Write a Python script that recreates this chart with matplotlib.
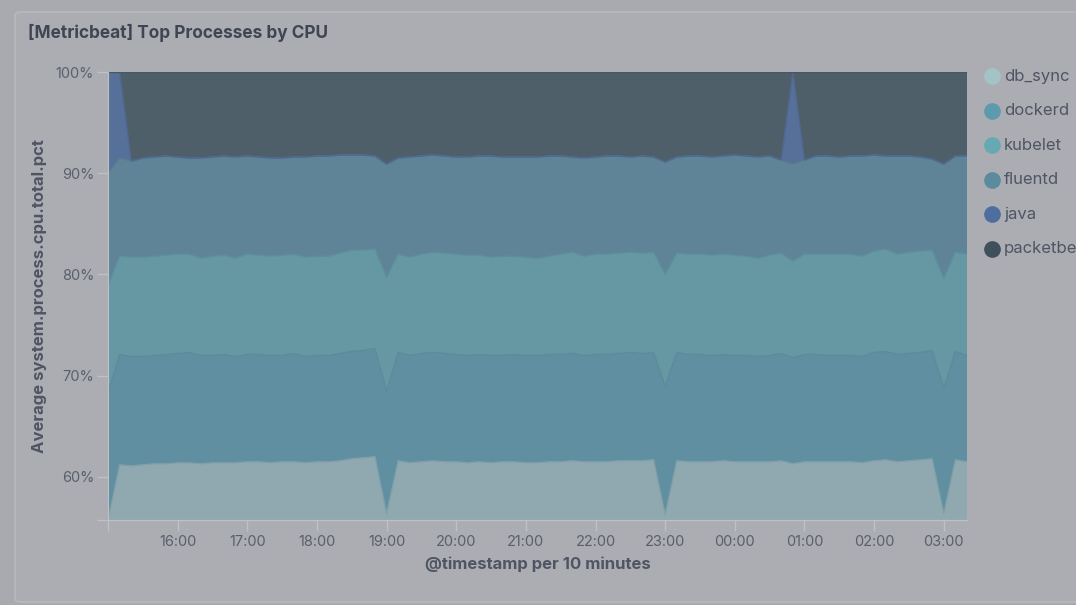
import numpy as np
import pandas as pd
import matplotlib
matplotlib.use("Agg")
import matplotlib.pyplot as plt
import matplotlib.dates as mdates
from matplotlib.patches import FancyBboxPatch
from matplotlib.lines import Line2D

plt.rcParams['font.family'] = ['Inter', 'DejaVu Sans']

# share of total CPU per process (%), one value per 10 minutes from 15:00
times = pd.date_range("2019-06-01 15:00", periods=75, freq="10min")

db_sync = [55.8, 61.2, 61.1, 61.2, 61.3, 61.3, 61.4, 61.4, 61.3, 61.4,
           61.4, 61.4, 61.5, 61.5, 61.4, 61.5, 61.5, 61.4, 61.5, 61.5,
           61.6, 61.8, 61.9, 62.0, 56.4, 61.6, 61.4, 61.5, 61.6, 61.5,
           61.5, 61.4, 61.5, 61.4, 61.5, 61.5, 61.4, 61.4, 61.5, 61.5,
           61.6, 61.5, 61.5, 61.5, 61.6, 61.6, 61.6, 61.7, 56.3, 61.6,
           61.5, 61.5, 61.5, 61.6, 61.5, 61.5, 61.5, 61.5, 61.6, 61.3,
           61.5, 61.5, 61.5, 61.5, 61.5, 61.4, 61.6, 61.7, 61.5, 61.6,
           61.7, 61.8, 56.4, 61.7, 61.5]
dockerd = [12.5, 10.9, 10.8, 10.7, 10.7, 10.8, 10.8, 10.9, 10.7, 10.6,
           10.7, 10.5, 10.6, 10.6, 10.6, 10.5, 10.7, 10.5, 10.5, 10.5,
           10.6, 10.6, 10.6, 10.7, 12.1, 10.7, 10.6, 10.7, 10.7, 10.7,
           10.6, 10.6, 10.6, 10.6, 10.5, 10.6, 10.6, 10.6, 10.6, 10.6,
           10.6, 10.5, 10.6, 10.6, 10.6, 10.7, 10.6, 10.6, 12.7, 10.7,
           10.6, 10.6, 10.5, 10.5, 10.5, 10.5, 10.4, 10.5, 10.6, 10.5,
           10.6, 10.6, 10.5, 10.5, 10.5, 10.5, 10.7, 10.7, 10.6, 10.6,
           10.6, 10.7, 12.4, 10.7, 10.5]
kubelet = [10.6, 9.7, 9.8, 9.8, 9.8, 9.8, 9.8, 9.7, 9.6, 9.8,
           9.8, 9.7, 9.9, 9.8, 9.8, 9.9, 9.8, 9.8, 9.8, 9.8,
           9.9, 10.0, 9.9, 9.8, 11.2, 9.7, 9.7, 9.8, 9.9, 9.9,
           9.9, 9.9, 9.8, 9.7, 9.8, 9.7, 9.7, 9.6, 9.7, 9.9,
           10.0, 9.8, 9.9, 9.9, 9.9, 9.9, 9.9, 9.9, 11.0, 9.8,
           9.9, 9.9, 9.9, 9.9, 9.9, 9.8, 9.7, 9.9, 9.9, 9.5,
           9.9, 9.9, 10.0, 10.0, 10.0, 9.9, 10.0, 10.1, 9.9, 10.0,
           10.0, 9.9, 10.8, 9.8, 10.0]
fluentd = [11.1, 9.7, 9.5, 9.8, 9.8, 9.8, 9.6, 9.5, 9.9, 9.8,
           9.8, 10.0, 9.7, 9.7, 9.7, 9.6, 9.6, 9.9, 9.9, 9.9,
           9.7, 9.4, 9.4, 9.2, 11.2, 9.5, 9.9, 9.7, 9.6, 9.6,
           9.6, 9.7, 9.8, 10.0, 9.8, 9.8, 9.9, 10.0, 9.9, 9.7,
           9.4, 9.7, 9.6, 9.7, 9.6, 9.4, 9.6, 9.4, 11.1, 9.5,
           9.7, 9.7, 9.7, 9.7, 9.9, 9.9, 10.0, 9.8, 9.2, 9.6,
           9.3, 9.7, 9.7, 9.6, 9.7, 9.9, 9.5, 9.2, 9.7, 9.5,
           9.3, 9.0, 11.3, 9.5, 9.7]
java = [10.0, 8.5, 0, 0, 0, 0, 0, 0, 0, 0,
        0, 0, 0, 0, 0, 0, 0, 0, 0, 0,
        0, 0, 0, 0, 0, 0, 0, 0, 0, 0,
        0, 0, 0, 0, 0, 0, 0, 0, 0, 0,
        0, 0, 0, 0, 0, 0, 0, 0, 0, 0,
        0, 0, 0, 0, 0, 0, 0, 0, 0, 9.1,
        0, 0, 0, 0, 0, 0, 0, 0, 0, 0,
        0, 0, 0, 0, 0]
packetbeat = [0, 0, 8.8, 8.5, 8.4, 8.3, 8.4, 8.5, 8.5, 8.4,
              8.3, 8.4, 8.3, 8.4, 8.5, 8.5, 8.4, 8.4, 8.3, 8.3,
              8.2, 8.2, 8.2, 8.3, 9.1, 8.5, 8.4, 8.3, 8.2, 8.3,
              8.4, 8.4, 8.3, 8.3, 8.4, 8.4, 8.4, 8.4, 8.3, 8.3,
              8.4, 8.5, 8.4, 8.3, 8.3, 8.4, 8.3, 8.4, 8.9, 8.4,
              8.3, 8.3, 8.4, 8.3, 8.2, 8.3, 8.4, 8.3, 8.7, 0,
              8.7, 8.3, 8.3, 8.4, 8.3, 8.3, 8.2, 8.3, 8.3, 8.3,
              8.4, 8.6, 9.1, 8.3, 8.3]

names = ["db_sync", "dockerd", "kubelet", "fluentd", "java", "packetbeat"]
fills = ["#90a9b0", "#5f8fa0", "#6698a3", "#608497", "#56709a", "#4e5f6a"]
edges = ["#7fa0a8", "#5a8c9c", "#5e8f9c", "#587b8e", "#4f6890", "#485762"]
dots = ["#a3c3c7", "#5b9bad", "#66a9b4", "#5b8b9d", "#4d6e9e", "#3f4f5c"]

data = np.array([db_sync, dockerd, kubelet, fluentd, java, packetbeat], dtype=float)
data = data / data.sum(axis=0) * 100

fig = plt.figure(figsize=(10.76, 6.05), dpi=100)
fig.patch.set_facecolor("#a9aaaf")
panel = FancyBboxPatch((15 / 1076, 3 / 605), 1.2, 590 / 605,
                       boxstyle="round,pad=0,rounding_size=0.006",
                       transform=fig.transFigure, facecolor="#acadb2",
                       edgecolor="#b8b9be", linewidth=1.2, zorder=-10)
fig.patches.append(panel)

ax = fig.add_axes([108 / 1076, 1 - 520 / 605, 859 / 1076, 448 / 605])
ax.set_facecolor("none")
ax.set_zorder(2)

ax.stackplot(times, data, colors=fills, linewidth=0)
tops = np.cumsum(data, axis=0)
for k in range(len(names)):
    if data[k].max() > 0:
        ax.plot(times, tops[k], color=edges[k], linewidth=1.0)

ax.set_xlim(times[0], times[-1])
ax.set_ylim(55.75, 100)
ax.set_yticks([60, 70, 80, 90, 100])
ax.set_yticklabels(["60%", "70%", "80%", "90%", "100%"])
ax.set_yticks([55.75], minor=True)
hour_ticks = [t for t in times if t.minute == 0 and t != times[0]]
ax.set_xticks(hour_ticks)
ax.set_xticklabels([t.strftime("%H:%M") for t in hour_ticks])
ax.set_xticks([times[0]], minor=True)
ax.tick_params(axis="both", which="both", colors="#bfc1c6", labelcolor="#59606b",
               labelsize=10.5, length=8, width=1)
ax.tick_params(axis="x", pad=3)
ax.tick_params(axis="y", pad=2)
for s in ["top", "right"]:
    ax.spines[s].set_visible(False)
for s in ["left", "bottom"]:
    ax.spines[s].set_color("#bfc1c6")

ax.set_xlabel("@timestamp per 10 minutes", fontsize=12, fontweight="bold",
              color="#4f5563", labelpad=5)
ax.set_ylabel("Average system.process.cpu.total.pct", fontsize=12,
              fontweight="bold", color="#4f5563", labelpad=6)

fig.text(28 / 1076, 1 - 33 / 605, "[Metricbeat] Top Processes by CPU",
         fontsize=12.4, fontweight="bold", color="#3f4552", va="center")

for k, name in enumerate(names):
    y = 1 - (76 + k * 34.6) / 605
    fig.add_artist(Line2D([992 / 1076], [y], transform=fig.transFigure,
                          marker="o", markersize=11, color=dots[k], linestyle="none"))
    fig.text(1004 / 1076, y, name, fontsize=12, color="#4f5563", va="center")

fig.savefig("out.png", dpi=100, facecolor=fig.get_facecolor())
